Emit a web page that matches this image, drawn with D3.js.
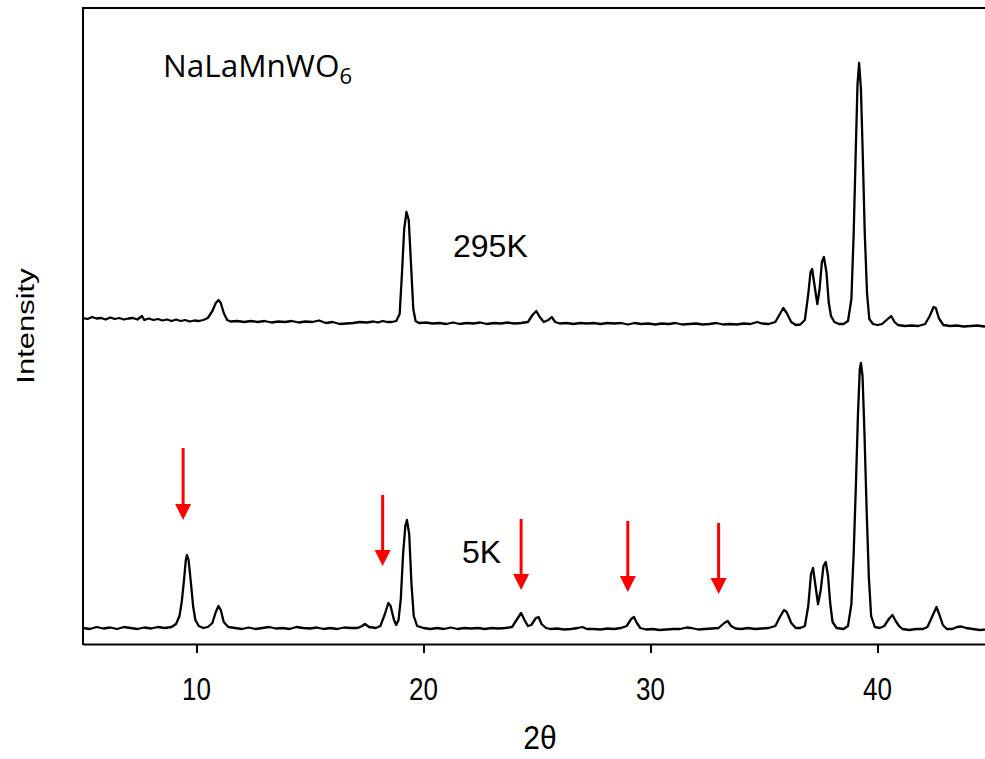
<!DOCTYPE html>
<html>
<head>
<meta charset="utf-8">
<script src="https://cdn.jsdelivr.net/npm/d3@7"></script>
<style>
  html, body { margin: 0; padding: 0; background: #fff; }
  svg { display: block; }
</style>
</head>
<body>
<svg id="chart" width="985" height="759"></svg>
<script>
// ---------------- DATA ----------------
const xTicks = [10, 20, 30, 40];
const xDomain = [5, 45];

// 5K pattern: [2theta, intensity (arb. units)]
const pattern5K = [
  [5.0,16],[5.3,15],[5.6,17],[5.9,15.5],[6.2,16.5],[6.5,15],[6.8,17],[7.1,16],[7.4,15],[7.7,16.5],
  [8.0,15.5],[8.3,17],[8.6,16],[8.9,17],[9.1,20],[9.25,28],[9.35,42],[9.45,64],[9.53,84],[9.58,89],
  [9.65,84],[9.75,62],[9.85,38],[9.95,24],[10.1,18],[10.3,16],[10.5,17],[10.7,21],[10.85,32],[10.97,38],
  [11.07,34],[11.2,22],[11.4,17],[11.7,16],[12.0,15],[12.3,16.5],[12.6,15],[12.9,16],[13.2,17],[13.5,15.5],
  [13.8,16],[14.1,15],[14.4,17],[14.7,16],[15.0,15.5],[15.3,16.5],[15.6,15],[15.9,16],[16.2,15],[16.5,16.5],
  [16.8,16],[17.1,16],[17.3,18],[17.42,20],[17.6,17],[17.9,16],[18.1,18],[18.3,30],[18.45,41],[18.55,38],
  [18.7,24],[18.8,19],[18.9,24],[19.0,45],[19.1,90],[19.2,118],[19.27,124],[19.37,110],[19.47,60],[19.57,28],
  [19.72,18],[20.0,16],[20.3,15],[20.6,16],[20.9,15],[21.2,16.5],[21.5,15],[21.8,16],[22.1,15.5],[22.4,16],
  [22.7,15],[23.0,16],[23.3,15.5],[23.6,16],[23.9,17],[24.1,24],[24.3,31],[24.45,24],[24.6,18],[24.75,19],
  [24.95,26],[25.07,27],[25.2,20],[25.4,16],[25.6,15],[25.9,15.5],[26.2,14.5],[26.5,15],[26.8,16],[27.0,17],
  [27.2,15],[27.5,15],[27.8,14.5],[28.1,15.5],[28.4,15],[28.7,16],[28.95,18],[29.15,25],[29.27,27],[29.4,21],
  [29.55,16],[29.8,14.5],[30.1,15],[30.4,14],[30.7,14.5],[31.0,15],[31.3,15],[31.6,16.5],[31.8,16],[32.1,14.5],
  [32.4,15],[32.7,15.5],[33.0,16],[33.25,21],[33.4,23],[33.55,18],[33.75,15.5],[34.0,15],[34.3,16],[34.6,15],
  [34.9,15.5],[35.2,16],[35.5,18],[35.7,27],[35.88,34],[36.0,32],[36.2,21],[36.4,16],[36.6,16],[36.8,18],
  [36.95,38],[37.07,70],[37.16,76],[37.27,58],[37.38,40],[37.5,54],[37.62,78],[37.72,82],[37.82,68],[37.92,40],
  [38.02,22],[38.2,16],[38.5,15],[38.7,18],[38.85,40],[38.95,90],[39.05,160],[39.14,230],[39.22,275],[39.27,281],
  [39.34,268],[39.42,215],[39.52,135],[39.62,66],[39.72,28],[39.88,17],[40.1,16],[40.3,18],[40.5,25],[40.66,29],
  [40.8,23],[40.95,18],[41.1,15],[41.4,14],[41.7,15],[42.0,15],[42.2,17],[42.4,27],[42.6,37],[42.73,29],
  [42.88,19],[43.05,15],[43.3,15],[43.5,17],[43.7,17.5],[43.9,16],[44.2,15],[44.5,14],[44.8,14.5],[45.0,14]
];

// 295K pattern: [2theta, intensity (arb. units)], drawn with a vertical offset
const offset295K = 300;
const pattern295K = [
  [5.0,26],[5.2,25],[5.4,27],[5.6,25.5],[5.8,26],[6.0,24.5],[6.2,26.5],[6.4,25],[6.6,26],[6.8,24.5],
  [7.0,25.5],[7.2,26],[7.4,24.5],[7.6,28],[7.7,24],[7.9,25.5],[8.1,24],[8.3,25],[8.5,23.5],[8.7,24.5],
  [8.9,23],[9.1,24.5],[9.3,23],[9.5,24],[9.7,22.5],[9.9,23.5],[10.1,23],[10.3,24],[10.5,26],[10.7,33],
  [10.85,41],[10.97,44],[11.07,41],[11.2,31],[11.35,24],[11.5,22.5],[11.8,23],[12.1,22],[12.4,23],[12.7,22],
  [13.0,23],[13.3,21.5],[13.6,22.5],[13.9,22],[14.2,23],[14.5,21.5],[14.8,22.5],[15.1,22],[15.4,23.5],[15.7,21],
  [16.0,22],[16.3,20],[16.6,20.5],[16.9,21],[17.2,22],[17.5,21.5],[17.8,22.5],[18.0,21.5],[18.2,23],[18.4,22],
  [18.6,22],[18.8,23],[18.95,30],[19.05,70],[19.15,115],[19.25,132],[19.35,124],[19.45,80],[19.55,35],[19.65,23],
  [19.8,21],[20.1,21.5],[20.4,20.5],[20.7,21],[21.0,20],[21.3,21.5],[21.6,20],[21.9,21],[22.2,20.5],[22.5,21.5],
  [22.8,20],[23.1,21],[23.4,20.5],[23.7,21.5],[24.0,20.5],[24.3,21],[24.6,22],[24.8,29],[24.97,33],[25.12,27],
  [25.3,22],[25.5,24],[25.65,27],[25.8,22],[26.0,20.5],[26.3,21],[26.6,20],[26.9,21],[27.2,20.5],[27.5,21],
  [27.8,20],[28.1,21],[28.4,20.5],[28.7,21],[29.0,19.5],[29.3,21],[29.6,20],[29.9,20.5],[30.2,19.5],[30.5,20.5],
  [30.8,20],[31.1,21],[31.4,19.5],[31.7,20],[32.0,20.5],[32.3,19.5],[32.6,20],[32.9,21],[33.2,19.5],[33.5,20],
  [33.8,19.5],[34.1,20.5],[34.4,20],[34.7,22],[34.9,20.5],[35.2,20],[35.5,22],[35.7,30],[35.85,36],[36.0,31],
  [36.2,22],[36.4,19],[36.6,19.5],[36.8,24],[36.95,50],[37.05,72],[37.12,75],[37.25,55],[37.35,40],[37.45,55],
  [37.55,82],[37.64,87],[37.75,72],[37.85,42],[37.95,28],[38.1,22],[38.3,20],[38.5,20],[38.7,23],[38.85,45],
  [38.95,110],[39.05,200],[39.12,260],[39.19,281],[39.27,255],[39.35,190],[39.44,110],[39.54,50],[39.64,25],[39.8,20],
  [40.0,19],[40.2,20],[40.45,25],[40.6,28],[40.75,22],[40.9,19],[41.2,18],[41.5,18.5],[41.8,18],[42.1,20],
  [42.3,28],[42.47,37],[42.57,36],[42.7,26],[42.9,19],[43.2,18],[43.5,18.5],[43.8,17.5],[44.1,18],[44.4,18.5],
  [44.7,17.5],[45.0,18]
];

// Red arrows marking the new low-temperature reflections: 2theta, top and tip intensity
const arrowTheta = [9.41, 18.2, 24.3, 29.0, 33.0];
const arrowTop   = [196, 149, 125, 123, 121];
const arrowTip   = [124, 78, 54, 52, 50];

const compoundLabel = "NaLaMnWO";
const compoundSub = "6";
const seriesLabels = ["295K", "5K"];

// ---------------- CHART ----------------
const svg = d3.select("#chart");
const margin = { left: 83, top: 8, bottom: 644 };
const x = d3.scaleLinear().domain(xDomain).range([margin.left, margin.left + 40 * 22.7]);
const y = d3.scaleLinear().domain([0, 636]).range([margin.bottom, margin.top]);

svg.append("defs").append("clipPath").attr("id", "plotclip")
  .append("rect").attr("x", margin.left).attr("y", margin.top)
  .attr("width", 985 - margin.left).attr("height", margin.bottom - margin.top);

const line = d3.line().x(d => x(d[0])).y(d => y(d[1])).curve(d3.curveLinear);

const g = svg.append("g").attr("clip-path", "url(#plotclip)");
g.append("path").datum(pattern295K.map(d => [d[0], d[1] + offset295K]))
  .attr("d", line).attr("fill", "none").attr("stroke", "#000").attr("stroke-width", 2.3)
  .attr("stroke-linejoin", "round");
g.append("path").datum(pattern5K)
  .attr("d", line).attr("fill", "none").attr("stroke", "#000").attr("stroke-width", 2.3)
  .attr("stroke-linejoin", "round");

// frame: left, top, bottom
svg.append("line").attr("x1", margin.left).attr("x2", margin.left)
  .attr("y1", margin.top - 1).attr("y2", margin.bottom + 1)
  .attr("stroke", "#000").attr("stroke-width", 2);
svg.append("line").attr("x1", margin.left).attr("x2", 985)
  .attr("y1", margin.top).attr("y2", margin.top)
  .attr("stroke", "#000").attr("stroke-width", 2);

const xAxis = d3.axisBottom(x).tickValues(xTicks).tickSize(9).tickSizeOuter(0).tickFormat("");
const ax = svg.append("g").attr("transform", `translate(0,${margin.bottom})`).call(xAxis);
ax.select(".domain").attr("stroke", "#000").attr("stroke-width", 2);
ax.selectAll(".tick line").attr("stroke", "#000").attr("stroke-width", 2);

// tick labels (vertically stretched like the original)
svg.selectAll(".ticklab").data(xTicks).enter().append("text")
  .attr("class", "ticklab")
  .attr("transform", d => `translate(${x(d)},700) scale(1,1.18)`)
  .attr("text-anchor", "middle")
  .attr("font-family", "Liberation Sans, Arial, sans-serif")
  .attr("font-size", 26)
  .attr("fill", "#000")
  .text(d => d);

// axis titles
svg.append("text")
  .attr("transform", "translate(540,749) scale(1,1.1)")
  .attr("text-anchor", "middle")
  .attr("font-family", "Liberation Sans, Arial, sans-serif")
  .attr("font-size", 30)
  .attr("fill", "#000")
  .text("2θ");

svg.append("text")
  .attr("transform", "translate(34,326) rotate(-90) scale(1.29,1)")
  .attr("text-anchor", "middle")
  .attr("font-family", "Liberation Sans, Arial, sans-serif")
  .attr("font-size", 24)
  .attr("fill", "#000")
  .text("Intensity");

// compound label
const ct = svg.append("text")
  .attr("x", 163).attr("y", 77)
  .attr("font-family", "Open Sans, Lato, sans-serif")
  .attr("font-size", 31.5)
  .attr("fill", "#000");
ct.append("tspan").text(compoundLabel);
ct.append("tspan").attr("dy", 7).attr("font-size", 22).text(compoundSub);

// series labels
svg.append("text").attr("x", 453).attr("y", 257)
  .attr("font-family", "Liberation Sans, Arial, sans-serif").attr("font-size", 32)
  .attr("fill", "#000").text(seriesLabels[0]);
svg.append("text").attr("x", 462).attr("y", 563)
  .attr("font-family", "Liberation Sans, Arial, sans-serif").attr("font-size", 32)
  .attr("fill", "#000").text(seriesLabels[1]);

// red arrows
const arrows = svg.append("g");
arrowTheta.forEach((t, i) => {
  const ax0 = x(t), yTop = y(arrowTop[i]), yTip = y(arrowTip[i]);
  const headH = 16, headW = 8;
  arrows.append("line").attr("x1", ax0).attr("x2", ax0)
    .attr("y1", yTop).attr("y2", yTip - headH + 1)
    .attr("stroke", "#ff0000").attr("stroke-width", 3);
  arrows.append("path")
    .attr("d", `M${ax0 - headW},${yTip - headH} L${ax0 + headW},${yTip - headH} L${ax0},${yTip} Z`)
    .attr("fill", "#ff0000");
});
</script>
</body>
</html>
